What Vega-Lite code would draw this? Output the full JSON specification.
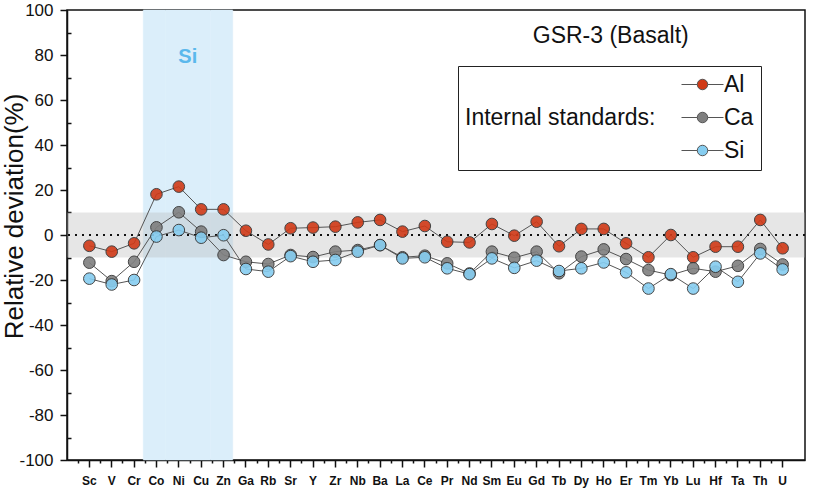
{
  "$schema": "https://vega.github.io/schema/vega-lite/v6.json",
  "width": 738,
  "height": 450,
  "autosize": {"type": "none"},
  "padding": {"left": 67, "top": 10, "right": 8, "bottom": 31},
  "background": "white",
  "config": {
    "view": {"stroke": "#111", "strokeWidth": 1.5},
    "font": "Liberation Sans",
    "axis": {"domainColor": "#111", "domainWidth": 1.5, "tickColor": "#111", "tickWidth": 1.5, "grid": false, "labelColor": "#111", "titleColor": "#111"}
  },
  "datasets": {
    "main": [
      {"el": "Sc", "Al": -4.8, "Ca": -12.3, "Si": -19.4},
      {"el": "V", "Al": -7.4, "Ca": -20.5, "Si": -22.0},
      {"el": "Cr", "Al": -3.7, "Ca": -11.9, "Si": -20.0},
      {"el": "Co", "Al": 18.1, "Ca": 3.4, "Si": -0.7},
      {"el": "Ni", "Al": 21.5, "Ca": 10.1, "Si": 2.2},
      {"el": "Cu", "Al": 11.4, "Ca": 1.5, "Si": -1.2},
      {"el": "Zn", "Al": 11.4, "Ca": -8.9, "Si": -0.1},
      {"el": "Ga", "Al": 1.9, "Ca": -11.9, "Si": -15.1},
      {"el": "Rb", "Al": -4.2, "Ca": -12.9, "Si": -16.3},
      {"el": "Sr", "Al": 3.0, "Ca": -8.9, "Si": -9.4},
      {"el": "Y", "Al": 3.3, "Ca": -9.8, "Si": -11.9},
      {"el": "Zr", "Al": 3.7, "Ca": -7.4, "Si": -11.1},
      {"el": "Nb", "Al": 5.6, "Ca": -6.7, "Si": -7.4},
      {"el": "Ba", "Al": 6.7, "Ca": -4.5, "Si": -4.5},
      {"el": "La", "Al": 1.5, "Ca": -9.9, "Si": -10.4},
      {"el": "Ce", "Al": 4.0, "Ca": -9.2, "Si": -9.9},
      {"el": "Pr", "Al": -3.0, "Ca": -12.6, "Si": -14.8},
      {"el": "Nd", "Al": -3.3, "Ca": -17.1, "Si": -17.4},
      {"el": "Sm", "Al": 4.9, "Ca": -7.4, "Si": -10.4},
      {"el": "Eu", "Al": -0.3, "Ca": -10.1, "Si": -14.6},
      {"el": "Gd", "Al": 5.9, "Ca": -7.4, "Si": -11.4},
      {"el": "Tb", "Al": -5.0, "Ca": -17.0, "Si": -16.0},
      {"el": "Dy", "Al": 2.7, "Ca": -9.6, "Si": -14.8},
      {"el": "Ho", "Al": 2.7, "Ca": -6.4, "Si": -12.2},
      {"el": "Er", "Al": -3.7, "Ca": -10.7, "Si": -16.6},
      {"el": "Tm", "Al": -9.9, "Ca": -15.6, "Si": -23.8},
      {"el": "Yb", "Al": 0.0, "Ca": -17.8, "Si": -17.4},
      {"el": "Lu", "Al": -9.9, "Ca": -14.8, "Si": -23.8},
      {"el": "Hf", "Al": -5.2, "Ca": -16.3, "Si": -14.1},
      {"el": "Ta", "Al": -5.2, "Ca": -13.7, "Si": -20.8},
      {"el": "Th", "Al": 6.7, "Ca": -6.2, "Si": -8.2},
      {"el": "U", "Al": -5.9, "Ca": -13.1, "Si": -15.3}
    ]
  },
  "resolve": {"axis": {"x": "independent", "y": "independent"}},
  "layer": [
    {
      "data": {"values": [{"el": "Co"}, {"el": "Ni"}, {"el": "Cu"}, {"el": "Zn"}]},
      "mark": {"type": "bar", "color": "#dbeefa", "stroke": "#dbeefa", "strokeWidth": 0.5, "xOffset": -2},
      "encoding": {
        "x": {
          "field": "el", "type": "nominal",
          "scale": {"domain": ["Sc","V","Cr","Co","Ni","Cu","Zn","Ga","Rb","Sr","Y","Zr","Nb","Ba","La","Ce","Pr","Nd","Sm","Eu","Gd","Tb","Dy","Ho","Er","Tm","Yb","Lu","Hf","Ta","Th","U"], "paddingInner": 0, "paddingOuter": 0.5},
          "axis": {"orient": "bottom", "title": null, "labels": false, "domain": false, "bandPosition": 0, "tickSize": 3}
        }
      }
    },
    {
      "data": {"values": [{"lo": -10, "hi": 10}]},
      "mark": {"type": "rect", "color": "#b8b8b8", "opacity": 0.35},
      "encoding": {
        "y": {"field": "lo", "type": "quantitative", "scale": {"domain": [-100, 100], "nice": false},
              "axis": {"orient": "left", "title": null, "labels": false, "domain": false, "values": [-90,-70,-50,-30,-10,10,30,50,70,90], "tickSize": -4}},
        "y2": {"field": "hi"}
      }
    },
    {
      "data": {"values": [{"zero": 0}]},
      "mark": {"type": "rule", "color": "#111", "strokeWidth": 2, "strokeDash": [2, 5]},
      "encoding": {"y": {"field": "zero", "type": "quantitative", "axis": null}}
    },
    {
      "data": {"name": "main"},
      "transform": [{"fold": ["Al", "Ca", "Si"], "as": ["std", "v"]}],
      "mark": {"type": "line", "color": "#555", "strokeWidth": 1},
      "encoding": {
        "x": {"field": "el", "type": "nominal", "axis": null},
        "y": {"field": "v", "type": "quantitative", "axis": null},
        "detail": {"field": "std"}
      }
    },
    {
      "data": {"name": "main"},
      "transform": [{"fold": ["Al", "Ca", "Si"], "as": ["std", "v"]}],
      "mark": {"type": "point", "filled": true, "size": 135, "stroke": "#333", "strokeWidth": 1, "opacity": 0.9},
      "encoding": {
        "x": {"field": "el", "type": "nominal",
              "axis": {"orient": "bottom", "title": null, "labelAngle": 0, "labelFontSize": 12, "labelFontWeight": "bold", "tickSize": 7, "labelPadding": 8, "domain": true}},
        "y": {"field": "v", "type": "quantitative",
              "axis": {"orient": "left", "title": "Relative deviation(%)", "values": [-100,-80,-60,-40,-20,0,20,40,60,80,100], "labelExpr": "toString(datum.value)", "tickSize": 7, "labelFontSize": 17, "labelPadding": 7, "titleFontSize": 26, "titleFontWeight": "normal", "titlePadding": -9, "titleY": 206}},
        "color": {
          "field": "std", "type": "nominal",
          "scale": {"domain": ["Al", "Ca", "Si"], "range": ["#d03a17", "#7f7f7f", "#86cdf0"]},
          "legend": {
            "orient": "none", "legendX": 391, "legendY": 56,
            "title": "Internal standards:", "titleOrient": "left", "titleAnchor": "middle", "titleBaseline": "middle", "titleLimit": 400,
            "titleFontSize": 23, "titleFontWeight": "normal", "titleColor": "#111", "titlePadding": 35,
            "labelFontSize": 23, "labelColor": "#111", "labelOffset": 10,
            "symbolType": "M-3,0H-0.75M0.75,0H3M-0.75,0A0.75,0.75,0,1,1,0.75,0A0.75,0.75,0,1,1,-0.75,0Z",
            "symbolSize": 196, "symbolStrokeColor": "#555", "symbolStrokeWidth": 1, "symbolOpacity": 1,
            "rowPadding": 9, "padding": 7, "strokeColor": "#222", "fillColor": "white"
          }
        }
      }
    },
    {
      "data": {"values": [{"label": "Si", "el": "Ni", "pos": 79}]},
      "mark": {"type": "text", "fontSize": 20, "fontWeight": "bold", "color": "#5bb8ec", "dx": 9},
      "encoding": {
        "x": {"field": "el", "type": "nominal", "axis": null},
        "y": {"field": "pos", "type": "quantitative", "axis": null},
        "text": {"field": "label"}
      }
    },
    {
      "data": {"values": [{"label": "GSR-3 (Basalt)", "el": "Ho", "pos": 88.5}]},
      "mark": {"type": "text", "fontSize": 23, "color": "#111", "dx": 7},
      "encoding": {
        "x": {"field": "el", "type": "nominal", "axis": null},
        "y": {"field": "pos", "type": "quantitative", "axis": null},
        "text": {"field": "label"}
      }
    }
  ]
}
